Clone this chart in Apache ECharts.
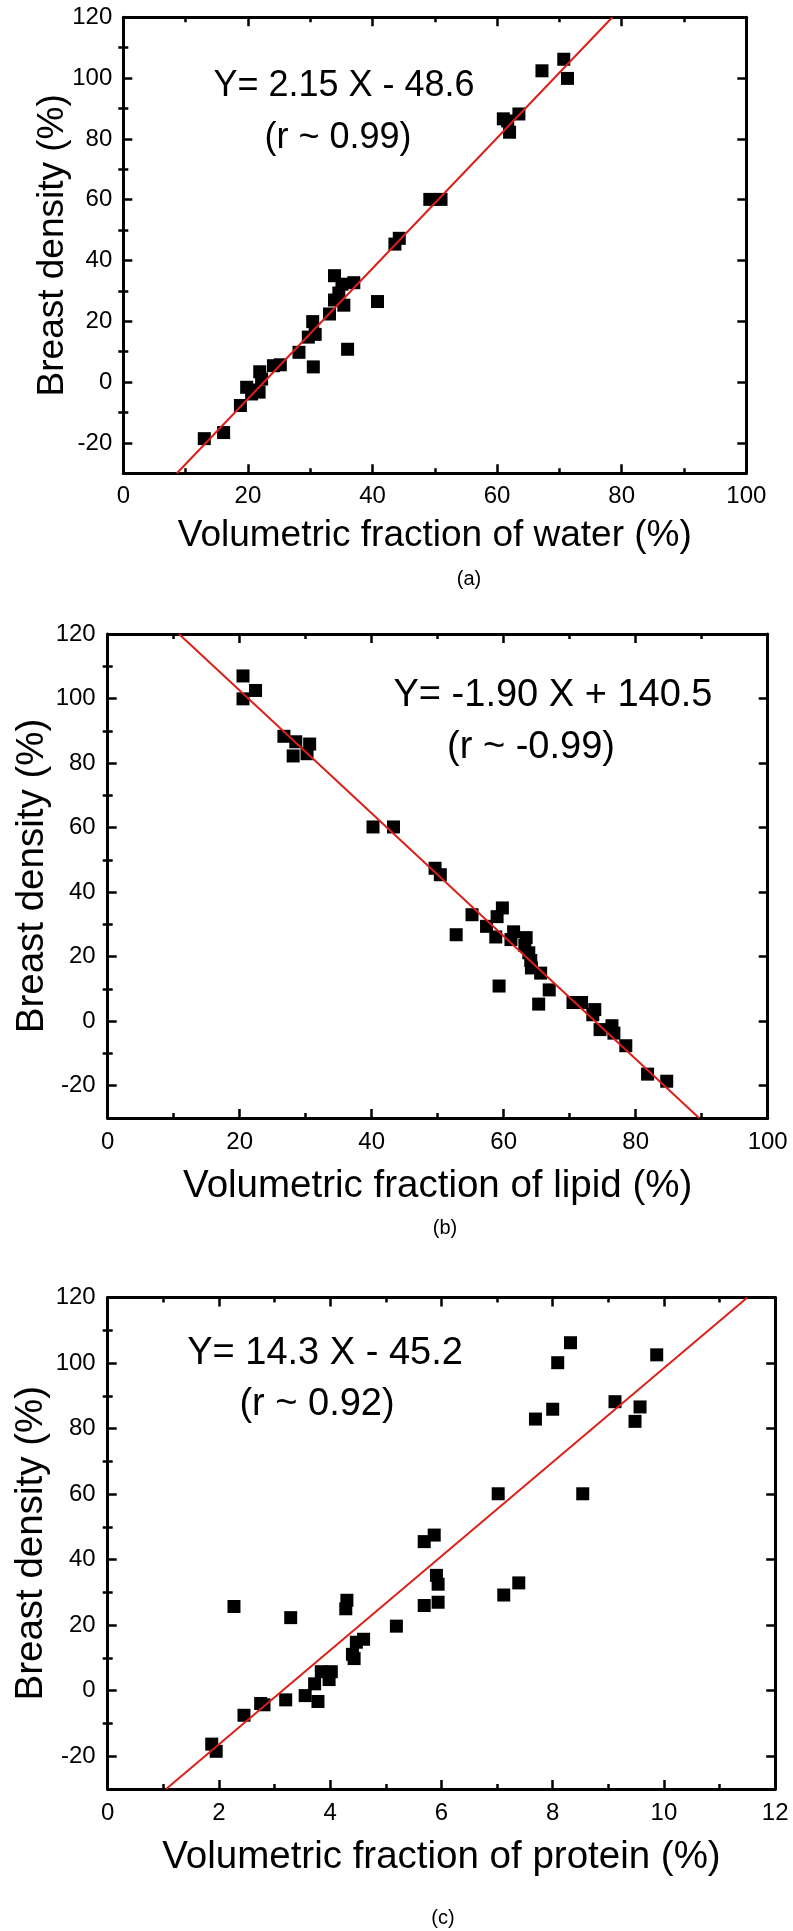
<!DOCTYPE html>
<html>
<head>
<meta charset="utf-8">
<script src="https://cdn.jsdelivr.net/npm/echarts@6/dist/echarts.min.js"></script>
<style>
html,body{margin:0;padding:0;background:#fff;}
#chart{width:793px;height:1931px;}
</style>
</head>
<body>
<div id="chart"></div>
<script>
// ---------- data ----------
const waterX = [13.0,16.1,18.8,19.8,20.6,21.0,21.8,22.2,21.9,24.1,25.2,30.5,28.2,36.0,29.7,30.8,30.4,33.1,35.4,33.9,40.8,34.6,35.1,37.0,33.9,43.6,44.3,49.2,51.0,61.0,61.7,62.0,63.5,67.2,70.7,71.3];
const waterY = [-18.6,-16.6,-7.7,-1.7,-3.9,-2.6,-3.3,1.0,3.4,5.4,5.7,5.0,9.8,10.8,14.8,15.7,19.9,22.4,25.3,27.0,26.5,29.3,32.2,32.7,35.0,45.4,47.3,60.1,60.1,86.6,85.9,82.2,88.2,102.4,106.2,99.9];

const lipidX = [20.5,20.5,22.4,26.7,28.5,28.1,30.6,30.2,40.2,43.3,49.6,50.4,52.8,55.2,57.4,58.8,59.0,59.8,59.3,61.5,61.1,63.4,63.2,63.8,64.1,64.2,65.6,65.3,66.9,70.5,71.8,73.8,73.5,74.6,76.4,76.7,78.5,81.8,84.7];
const lipidY = [107.0,99.9,102.5,88.3,86.6,82.2,85.9,82.9,60.2,60.2,47.4,45.4,26.8,33.0,29.4,26.1,32.4,35.1,10.9,27.7,25.3,25.9,23.5,21.2,18.8,16.5,14.9,5.3,9.7,5.8,5.8,3.6,2.0,-2.6,-1.4,-3.7,-7.6,-16.4,-18.6];

const proteinX = [1.87,1.95,2.27,2.45,2.75,2.81,3.20,3.29,3.55,3.72,3.78,3.84,3.98,4.02,4.30,4.28,4.40,4.43,4.47,4.60,5.19,5.69,5.69,5.87,5.91,5.94,5.94,7.02,7.12,7.39,7.69,8.00,8.09,8.32,8.54,9.12,9.48,9.57,9.87];
const proteinY = [-16.3,-18.5,25.7,-7.5,-3.9,-4.3,-2.8,22.3,-1.5,2.1,-3.3,5.8,3.4,5.8,27.6,25.0,11.1,9.8,14.8,15.7,19.7,45.5,26.0,47.5,35.2,32.5,27.0,60.1,29.2,32.9,82.9,85.9,100.1,106.2,60.1,88.2,82.2,86.6,102.5];

// fitted lines: end points where the red line meets the frame
const waterFit = [[8.6,-30],[78.5,120]];
const lipidFit = [[10.8,120],[89.6,-30]];
const proteinFit = [[1.05,-30],[11.5,120]];

const yMajorTicks = [-20,0,20,40,60,80,100,120];
const yMinorTicks = [-10,10,30,50,70,90,110];

const eqA = ['Y= 2.15 X - 48.6','(r ~ 0.99)'];
const eqB = ['Y= -1.90 X + 140.5','(r ~ -0.99)'];
const eqC = ['Y= 14.3 X - 45.2','(r ~ 0.92)'];

// ---------- chart ----------
const FONT = "'Liberation Sans', Arial, Helvetica, sans-serif";
const chart = echarts.init(document.getElementById('chart'), null, {renderer:'canvas'});

const grids = [
  {left:123.3, top:17.3, width:623, height:456},
  {left:107.7, top:634, width:660, height:484},
  {left:107.7, top:1297.5, width:667.5, height:491.5}
];
const panels = [
  {xs:waterX, ys:waterY, fit:waterFit, xMin:0, xMax:100, xInt:20, xName:'Volumetric fraction of water (%)', nameSize:37, xGap:44, yGap:52, labMargin:11},
  {xs:lipidX, ys:lipidY, fit:lipidFit, xMin:0, xMax:100, xInt:20, xName:'Volumetric fraction of lipid (%)', nameSize:38.5, xGap:49, yGap:56, labMargin:12},
  {xs:proteinX, ys:proteinY, fit:proteinFit, xMin:0, xMax:12, xInt:2, xName:'Volumetric fraction of protein (%)', nameSize:38.5, xGap:49, yGap:57, labMargin:12}
];

const lineCol = '#000';
const xAxes = [], yAxes = [], series = [];
panels.forEach((p, i) => {
  const axisLine = {show:true, onZero:false, lineStyle:{color:lineCol, width:3}};
  const labelStyle = {fontFamily:FONT, fontSize:24, color:'#000'};
  xAxes.push({
    gridIndex:i, type:'value', position:'bottom', min:p.xMin, max:p.xMax, interval:p.xInt,
    axisLine, splitLine:{show:false},
    axisTick:{show:true, inside:true, length:9, lineStyle:{color:lineCol, width:2.5}},
    minorTick:{show:true, splitNumber:2, length:5, lineStyle:{color:lineCol, width:2.5}},
    axisLabel:Object.assign({margin:p.labMargin}, labelStyle),
    name:p.xName, nameLocation:'middle', nameGap:p.xGap, nameMoveOverlap:false,
    nameTextStyle:{fontFamily:FONT, fontSize:p.nameSize, color:'#000'}
  });
  xAxes.push({
    gridIndex:i, type:'value', position:'top', min:p.xMin, max:p.xMax, interval:p.xInt,
    axisLine, splitLine:{show:false},
    axisTick:{show:true, inside:true, length:9, lineStyle:{color:lineCol, width:2.5}},
    minorTick:{show:true, splitNumber:2, length:5, lineStyle:{color:lineCol, width:2.5}},
    axisLabel:{show:false}
  });
  const yBase = {gridIndex:i, type:'value', min:-30, max:120, splitLine:{show:false}};
  yAxes.push(Object.assign({}, yBase, {
    position:'left', axisLine,
    axisTick:{show:true, inside:true, length:9, customValues:yMajorTicks, lineStyle:{color:lineCol, width:2.5}},
    axisLabel:Object.assign({margin:p.labMargin, customValues:yMajorTicks}, labelStyle),
    name:'Breast density (%)', nameLocation:'middle', nameGap:p.yGap, nameMoveOverlap:false,
    nameTextStyle:{fontFamily:FONT, fontSize:p.nameSize, color:'#000'}
  }));
  yAxes.push(Object.assign({}, yBase, {
    position:'left', axisLine:{show:false},
    axisTick:{show:true, inside:true, length:5, customValues:yMinorTicks, lineStyle:{color:lineCol, width:2.5}},
    axisLabel:{show:false}
  }));
  yAxes.push(Object.assign({}, yBase, {
    position:'right', axisLine,
    axisTick:{show:true, inside:true, length:9, customValues:yMajorTicks, lineStyle:{color:lineCol, width:2.5}},
    axisLabel:{show:false}
  }));
  yAxes.push(Object.assign({}, yBase, {
    position:'right', axisLine:{show:false},
    axisTick:{show:true, inside:true, length:5, customValues:yMinorTicks, lineStyle:{color:lineCol, width:2.5}},
    axisLabel:{show:false}
  }));

  series.push({
    type:'scatter', xAxisIndex:i*2, yAxisIndex:i*4,
    symbol:'rect', symbolSize:13, itemStyle:{color:'#000', opacity:1},
    data:p.xs.map((x, k) => [x, p.ys[k]]), z:2, silent:true
  });
  series.push({
    type:'line', xAxisIndex:i*2, yAxisIndex:i*4,
    data:p.fit, symbol:'none', lineStyle:{color:'#dc1f1a', width:2}, z:3, silent:true
  });
});

function txt(s, x, y, size){
  return {type:'text', x:x, y:y, style:{text:s, font:size+'px '+FONT, fill:'#000', textAlign:'center', textVerticalAlign:'middle'}, z:10};
}

chart.setOption({
  backgroundColor:'#fff',
  animation:false,
  grid:grids,
  xAxis:xAxes,
  yAxis:yAxes,
  series:series,
  graphic:[
    txt(eqA[0], 344, 86, 36), txt(eqA[1], 338, 138, 36),
    txt(eqB[0], 553, 696, 38), txt(eqB[1], 531, 748, 38),
    txt(eqC[0], 325, 1354, 38), txt(eqC[1], 317, 1405, 38),
    txt('(a)', 469, 579, 20), txt('(b)', 445, 1228, 20), txt('(c)', 443, 1918, 20)
  ]
});
</script>
</body>
</html>
